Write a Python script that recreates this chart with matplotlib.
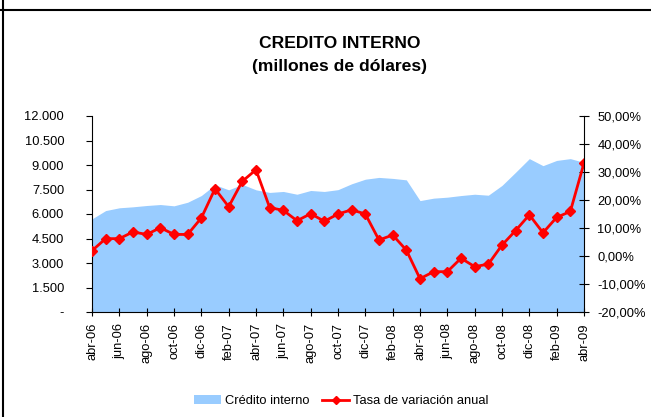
import matplotlib.pyplot as plt
from matplotlib.lines import Line2D
from matplotlib.patches import Patch

# meses abr-06 .. abr-09
meses = ['abr-06', 'may-06', 'jun-06', 'jul-06', 'ago-06', 'sep-06', 'oct-06', 'nov-06', 'dic-06',
         'ene-07', 'feb-07', 'mar-07', 'abr-07', 'may-07', 'jun-07', 'jul-07', 'ago-07', 'sep-07',
         'oct-07', 'nov-07', 'dic-07', 'ene-08', 'feb-08', 'mar-08', 'abr-08', 'may-08', 'jun-08',
         'jul-08', 'ago-08', 'sep-08', 'oct-08', 'nov-08', 'dic-08', 'ene-09', 'feb-09', 'mar-09',
         'abr-09']

credito = [5700, 6210, 6380, 6440, 6520, 6580, 6500, 6720, 7130,
           7790, 7480, 7810, 7480, 7320, 7380, 7210, 7440, 7380,
           7490, 7850, 8130, 8240, 8180, 8090, 6820, 6970, 7030,
           7130, 7210, 7150, 7750, 8560, 9390, 8960, 9280, 9390,
           9160]

tasa = [1.9, 6.2, 6.2, 8.6, 7.7, 10.1, 7.7, 7.7, 13.6,
        24.0, 17.6, 26.7, 30.8, 17.3, 16.3, 12.6, 15.1, 12.4,
        15.0, 16.5, 15.0, 5.7, 7.5, 2.1, -8.1, -5.6, -5.6,
        -0.8, -3.8, -2.9, 3.9, 9.1, 14.7, 8.3, 13.8, 15.9,
        33.2]

left_ticks = [0, 1500, 3000, 4500, 6000, 7500, 9000, 10500, 12000]
left_labels = ['-', '1.500', '3.000', '4.500', '6.000', '7.500', '9.000', '10.500', '12.000']
right_ticks = [-20, -10, 0, 10, 20, 30, 40, 50]
right_labels = ['-20,00%', '-10,00%', '0,00%', '10,00%', '20,00%', '30,00%', '40,00%', '50,00%']

plt.rcParams['font.family'] = ['Liberation Sans', 'DejaVu Sans']
azul = '#99CCFF'
rojo = '#FF0000'

fig = plt.figure(figsize=(6.51, 4.17), dpi=100)
ax = fig.add_axes([92 / 651, 1 - 312 / 417, (584 - 92) / 651, (312 - 116) / 417])
x = list(range(len(meses)))

ax.fill_between(x, credito, 0, color=azul, linewidth=0)
ax.set_xlim(0, len(meses) - 1)
ax.set_ylim(0, 12000)
ax.set_yticks(left_ticks)
ax.set_yticklabels(left_labels)
ax.set_xticks(x[::2])
ax.set_xticklabels(meses[::2], rotation=90)
for s in ['top', 'right']:
    ax.spines[s].set_visible(False)
ax.tick_params(axis='y', direction='out', length=4, pad=16, labelsize=9.3)
ax.tick_params(axis='x', direction='inout', length=6, pad=5, labelsize=9.3)

ax2 = ax.twinx()
ax2.plot(x, tasa, color=rojo, linewidth=2, marker='D', markersize=5.5)
ax2.set_ylim(-20, 50)
ax2.set_yticks(right_ticks)
ax2.set_yticklabels(right_labels)
for s in ['top', 'left', 'bottom']:
    ax2.spines[s].set_visible(False)
ax2.tick_params(axis='y', direction='inout', length=7, pad=6, labelsize=9.3)

fig.text(340 / 651, 1 - 43 / 417, 'CREDITO INTERNO', ha='center', va='center',
         fontsize=12.6, fontweight='bold')
fig.text(340 / 651, 1 - 66 / 417, '(millones de dólares)', ha='center', va='center',
         fontsize=12.6, fontweight='bold')

handles = [Patch(facecolor=azul, edgecolor='none'),
           Line2D([0], [0], color=rojo, linewidth=2, marker='D', markersize=4)]
fig.legend(handles, ['Crédito interno', 'Tasa de variación anual'], loc='center',
           bbox_to_anchor=(341 / 651, 1 - 401 / 417), ncol=2, frameon=False, fontsize=9.3,
           handlelength=2.1, handleheight=0.7, handletextpad=0.3, columnspacing=1.0)

# marco de la celda
fig.add_artist(Line2D([3 / 651, 3 / 651], [0, 1], transform=fig.transFigure, color='black', linewidth=1.5))
fig.add_artist(Line2D([0, 1], [1 - 10 / 417, 1 - 10 / 417], transform=fig.transFigure, color='black', linewidth=1.5))

fig.savefig('out.png', dpi=100)
